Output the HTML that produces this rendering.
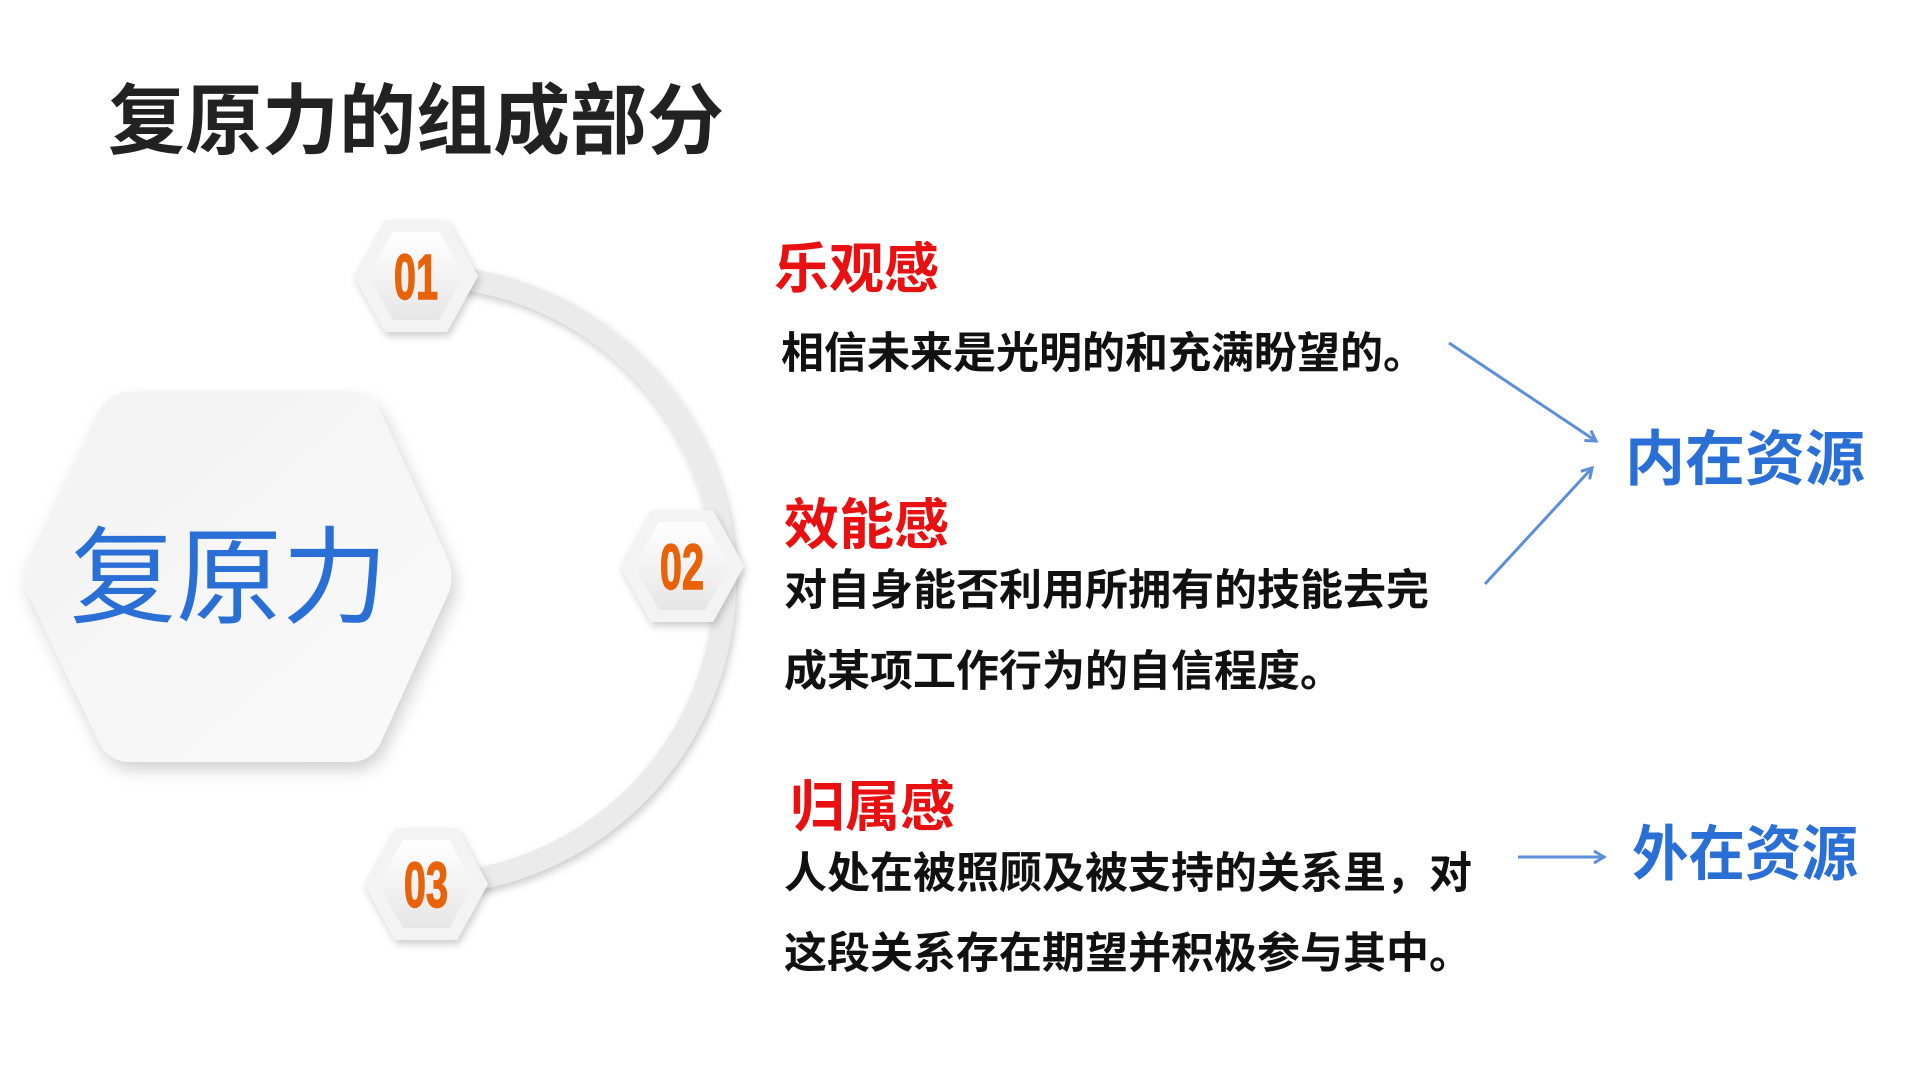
<!DOCTYPE html>
<html><head><meta charset="utf-8"><style>
html,body{margin:0;padding:0;background:#fff;}
svg{display:block;}
.t{font-family:"Liberation Sans","Noto Sans CJK SC",sans-serif;font-weight:bold;}
</style></head><body>
<svg width="1920" height="1080" viewBox="0 0 1920 1080" xmlns="http://www.w3.org/2000/svg">
<defs>
<filter id="sh" x="-30%" y="-30%" width="160%" height="160%"><feDropShadow dx="4" dy="8" stdDeviation="8" flood-color="#000" flood-opacity="0.18"/></filter>
<filter id="sh2" x="-30%" y="-30%" width="160%" height="160%"><feDropShadow dx="2" dy="4" stdDeviation="4" flood-color="#000" flood-opacity="0.2"/></filter>
<linearGradient id="g1" x1="0" y1="0" x2="1" y2="1"><stop offset="0" stop-color="#f2f2f2"/><stop offset="1" stop-color="#fafafa"/></linearGradient>
<linearGradient id="g2" x1="0" y1="0" x2="0" y2="1"><stop offset="0" stop-color="#ffffff"/><stop offset="1" stop-color="#e6e6e6"/></linearGradient>
<marker id="ar" markerWidth="14" markerHeight="14" refX="11" refY="7" orient="auto" markerUnits="userSpaceOnUse"><path d="M1,1 L11,7 L1,13" fill="none" stroke="#5b8fd9" stroke-width="3"/></marker>
</defs>
<text x="108" y="148" class="t" font-size="77" fill="#222">复原力的组成部分</text>

<path d="M416,276 A304,304 0 0 1 426,884" fill="none" stroke="#ebebeb" stroke-width="22" filter="url(#sh2)"/>

<g filter="url(#sh)">
<path d="M130,392 L350,392 Q370,392 380,410 L448,560 Q455,577 448,594 L380,744 Q370,762 350,762 L130,762 Q110,762 100,744 L28,594 Q20,577 28,560 L100,410 Q110,392 130,392 Z" fill="url(#g1)"/>
</g>
<text x="70" y="615" font-family="Liberation Sans,'Noto Sans CJK SC',sans-serif" font-size="106" fill="#2a6fd6">复原力</text>

<g filter="url(#sh2)">
<polygon points="385,220 447,220 478,276 447,332 385,332 354,276" fill="#f3f3f3"/>
<polygon points="393,232 439,232 464,276 439,320 393,320 368,276" fill="url(#g2)"/>
<polygon points="651,510 713,510 744,566 713,622 651,622 620,566" fill="#f3f3f3"/>
<polygon points="659,522 705,522 730,566 705,610 659,610 634,566" fill="url(#g2)"/>
<polygon points="395,828 457,828 488,884 457,940 395,940 364,884" fill="#f3f3f3"/>
<polygon points="403,840 449,840 474,884 449,928 403,928 378,884" fill="url(#g2)"/>
</g>
<g class="t" font-size="64" fill="#e8620a" text-anchor="middle" stroke="#e8620a" stroke-width="1.5">
<text x="0" y="0" transform="translate(416,299) scale(0.62,1)">01</text>
<text x="0" y="0" transform="translate(682,589) scale(0.62,1)">02</text>
<text x="0" y="0" transform="translate(426,907) scale(0.62,1)">03</text>
</g>

<g class="t" font-size="55" fill="#e81010">
<text x="774" y="288">乐观感</text>
<text x="784" y="544">效能感</text>
<text x="790" y="826">归属感</text>
</g>
<g class="t" font-size="43" fill="#111">
<text x="781" y="368">相信未来是光明的和充满盼望的。</text>
<text x="784" y="605">对自身能否利用所拥有的技能去完</text>
<text x="784" y="686">成某项工作行为的自信程度。</text>
<text x="784" y="888">人处在被照顾及被支持的关系里，对</text>
<text x="784" y="968">这段关系存在期望并积极参与其中。</text>
</g>
<g class="t" font-size="60" fill="#2a6fd6">
<text x="1625" y="480">内在资源</text>
<text x="1632" y="875" textLength="226" lengthAdjust="spacingAndGlyphs">外在资源</text>
</g>
<g stroke="#5b8fd9" stroke-width="3" fill="none">
<line x1="1449" y1="343" x2="1596" y2="441" marker-end="url(#ar)"/>
<line x1="1485" y1="584" x2="1592" y2="468" marker-end="url(#ar)"/>
<line x1="1518" y1="857" x2="1604" y2="857" marker-end="url(#ar)"/>
</g>
</svg>
</body></html>
